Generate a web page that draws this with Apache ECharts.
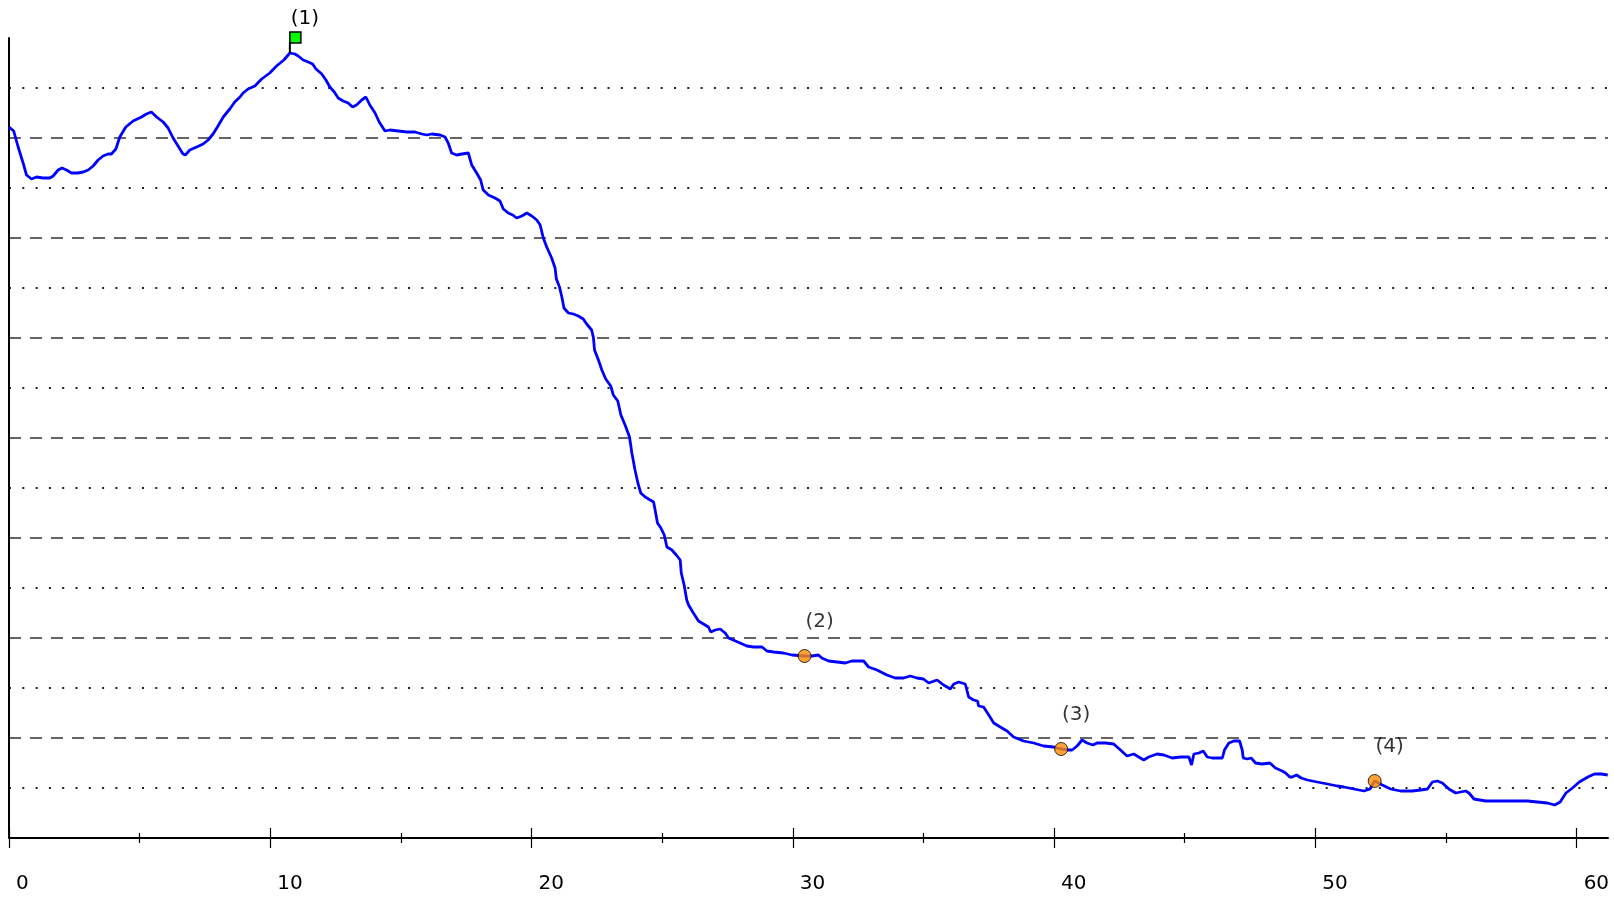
<!DOCTYPE html>
<html>
<head>
<meta charset="utf-8">
<title>profile</title>
<script src="https://cdn.jsdelivr.net/npm/echarts@6.0.0/dist/echarts.min.js"></script>
<style>
  html, body { margin: 0; padding: 0; background: #fff; }
  #profile { width: 1614px; height: 898px; }
</style>
</head>
<body>
<div id="profile"></div>
<script>
// distance along the route and height of the profile
var dist = [
  0, 0.18, 0.35, 0.54, 0.67, 0.86, 1.05, 1.3, 1.56, 1.69, 1.88, 2.03, 2.2, 2.39, 2.64, 2.84, 3.03, 3.22, 3.41, 3.6,
  3.79, 3.92, 4.09, 4.24, 4.47, 4.75, 5.07, 5.26, 5.45, 5.65, 5.9, 6.09, 6.28, 6.47, 6.66, 6.75, 6.92, 7.18, 7.43, 7.62,
  7.81, 8.0, 8.2, 8.45, 8.64, 8.84, 8.96, 9.15, 9.41, 9.67, 9.98, 10.24, 10.52, 10.75, 10.94, 11.07, 11.26, 11.45, 11.62, 11.75,
  11.97, 12.13, 12.28, 12.45, 12.6, 12.79, 12.98, 13.15, 13.3, 13.5, 13.66, 13.81, 14.01, 14.17, 14.39, 14.58, 14.9, 15.22, 15.54, 15.8,
  15.99, 16.18, 16.5, 16.69, 16.81, 16.94, 17.13, 17.33, 17.58, 17.71, 17.9, 18.05, 18.15, 18.35, 18.6, 18.79, 18.92, 19.11, 19.28, 19.43,
  19.63, 19.82, 20.01, 20.2, 20.33, 20.45, 20.58, 20.77, 20.9, 20.95, 21.07, 21.16, 21.24, 21.41, 21.6, 21.79, 21.98, 22.11, 22.3, 22.37,
  22.41, 22.56, 22.69, 22.84, 23.03, 23.13, 23.3, 23.42, 23.58, 23.75, 23.84, 23.96, 24.07, 24.18, 24.35, 24.54, 24.67, 24.7, 24.73, 24.82,
  24.95, 25.08, 25.18, 25.37, 25.54, 25.69, 25.73, 25.84, 25.94, 26.01, 26.17, 26.39, 26.58, 26.77, 26.86, 27.03, 27.22, 27.41, 27.54, 27.98,
  28.24, 28.5, 28.82, 29.01, 29.26, 29.64, 29.97, 30.45, 30.73, 30.98, 31.11, 31.37, 31.69, 32.01, 32.26, 32.71, 32.9, 33.22, 33.6, 33.92,
  34.24, 34.5, 34.75, 35.0, 35.2, 35.52, 35.77, 36.03, 36.16, 36.35, 36.6, 36.73, 36.92, 37.07, 37.11, 37.3, 37.5, 37.69, 37.94, 38.2,
  38.45, 38.83, 39.22, 39.6, 39.98, 40.27, 40.56, 40.69, 40.88, 41.07, 41.26, 41.49, 41.64, 41.96, 42.28, 42.54, 42.79, 43.05, 43.24, 43.43,
  43.62, 43.94, 44.2, 44.52, 44.84, 45.16, 45.26, 45.35, 45.54, 45.71, 45.86, 46.05, 46.44, 46.52, 46.69, 46.88, 47.1, 47.2, 47.24, 47.39,
  47.54, 47.71, 47.96, 48.26, 48.47, 48.73, 48.86, 49.02, 49.11, 49.28, 49.46, 49.69, 50.07, 50.46, 50.84, 51.09, 51.47, 51.86, 52.09, 52.18,
  52.27, 52.56, 52.88, 53.26, 53.71, 54.03, 54.29, 54.48, 54.67, 54.86, 55.11, 55.37, 55.56, 55.75, 55.88, 56.07, 56.52, 57.22, 58.12, 58.5,
  58.88, 59.16, 59.37, 59.59, 59.84, 60.1, 60.43, 60.68, 60.94, 61.19
];
var height = [
  711, 707, 691, 675, 663, 659, 661, 660, 660, 662, 668, 670, 668, 665, 665, 666, 668, 672, 678, 682,
  684, 684, 689, 701, 711, 717, 721, 724, 726, 721, 716, 710, 700, 692, 684, 683, 688, 691, 694, 698,
  704, 712, 721, 729, 736, 741, 745, 749, 752, 759, 765, 772, 778, 785, 784, 782, 778, 776, 774, 769,
  764, 758, 751, 746, 740, 737, 735, 731, 733, 738, 741, 733, 725, 716, 707, 708, 707, 706, 706, 704,
  703, 704, 703, 701, 695, 685, 683, 684, 685, 673, 665, 658, 648, 643, 640, 637, 629, 625, 623, 620,
  622, 625, 622, 618, 613, 600, 591, 580, 570, 559, 551, 541, 530, 525, 524, 522, 519, 514, 508, 500,
  488, 478, 468, 459, 452, 443, 437, 423, 413, 401, 385, 368, 355, 345, 341, 338, 336, 337, 328, 315,
  310, 303, 291, 288, 283, 278, 265, 253, 238, 233, 226, 217, 214, 211, 206, 208, 209, 205, 200, 195,
  192, 191, 191, 187, 186, 185, 183, 182, 182, 183, 180, 177, 176, 175, 177, 177, 171, 168, 163, 160,
  160, 162, 160, 159, 155, 158, 153, 149, 154, 156, 154, 141, 138, 137, 132, 131, 123, 115, 111, 107,
  101, 97, 95, 92, 91, 89, 88, 88, 92, 98, 95, 93, 95, 95, 94, 88, 82, 84, 81, 78,
  81, 84, 83, 80, 81, 81, 73, 84, 85, 87, 81, 80, 80, 88, 95, 97, 97, 88, 80, 79,
  80, 75, 74, 75, 70, 67, 65, 61, 61, 63, 60, 58, 56, 54, 52, 51, 49, 47, 49, 53,
  57, 53, 49, 47, 47, 48, 49, 56, 57, 55, 49, 45, 46, 47, 45, 39, 37, 37, 37, 36,
  35, 33, 36, 45, 50, 56, 61, 64, 64, 63
];

// highest point, shown as a flag
var summitDist = [10.75];
var summitHeight = [785];
var summitLabels = ["(1)"];

// other marked points
var poiDist = [30.45, 40.27, 52.27];
var poiHeight = [182, 89, 57];
var poiLabels = ["(2)", "(3)", "(4)"];

var xMax = 61.2;
var majorTicks = [0, 10, 20, 30, 40, 50, 60];
var minorTicks = [5, 15, 25, 35, 45, 55];

var font = "DejaVu Sans";

var chart = echarts.init(document.getElementById("profile"), null, { renderer: "canvas" });

var profileData = dist.map(function (d, i) { return [d, height[i]]; });
var summitData = summitDist.map(function (d, i) { return [d, summitHeight[i]]; });
var poiData = poiDist.map(function (d, i) {
  return { name: poiLabels[i], value: [d, poiHeight[i]] };
});

// x axis with no ticks of its own, two helper axes draw ticks that cross the line
function tickAxis(values, len) {
  return {
    type: "value",
    position: "bottom",
    min: 0,
    max: xMax,
    offset: -len / 2,
    axisLine: { show: false },
    axisTick: {
      show: true,
      customValues: values,
      length: len,
      lineStyle: { color: "#000", width: 1.2 },
    },
    axisLabel: { show: false },
    splitLine: { show: false },
  };
}

var option = {
  animation: false,
  grid: { left: 9, right: 6, top: 38, bottom: 60 },
  xAxis: [
    {
      type: "value",
      position: "bottom",
      min: 0,
      max: xMax,
      axisLine: { show: true, lineStyle: { color: "#000", width: 2 } },
      axisTick: { show: false },
      axisLabel: {
        customValues: majorTicks,
        align: "left",
        padding: [0, 0, 0, 7],
        margin: 36,
        color: "#000",
        fontSize: 20,
        fontFamily: font,
      },
      splitLine: { show: false },
    },
    tickAxis(majorTicks, 20),
    tickAxis(minorTicks, 10),
  ],
  yAxis: {
    type: "value",
    min: 0,
    max: 800,
    interval: 100,
    axisLine: { show: true, lineStyle: { color: "#000", width: 2 } },
    axisTick: { show: false },
    axisLabel: { show: false },
    minorTick: { show: false, splitNumber: 2 },
    splitLine: {
      show: true,
      showMinLine: false,
      showMaxLine: false,
      lineStyle: { color: "#333", width: 1.5, type: [12, 9] },
    },
    minorSplitLine: {
      show: true,
      lineStyle: { color: "#222", width: 2, type: [2, 11.3] },
    },
  },
  series: [
    {
      name: "profile",
      type: "line",
      data: profileData,
      showSymbol: false,
      symbol: "none",
      lineStyle: { color: "#0000ff", width: 2.8 },
      z: 3,
    },
    {
      name: "summit",
      type: "custom",
      data: summitData,
      z: 4,
      renderItem: function (params, api) {
        var p = api.coord([api.value(0), api.value(1)]);
        var label = summitLabels[params.dataIndex];
        return {
          type: "group",
          children: [
            {
              type: "line",
              shape: { x1: p[0], y1: p[1], x2: p[0], y2: p[1] - 11 },
              style: { stroke: "#000", lineWidth: 2 },
            },
            {
              type: "rect",
              shape: { x: p[0], y: p[1] - 21, width: 11, height: 11 },
              style: { fill: "#00ff00", stroke: "#000", lineWidth: 1.5 },
            },
            {
              type: "text",
              x: p[0] + 15,
              y: p[1] - 34,
              style: {
                text: label,
                fill: "#000",
                fontSize: 20,
                fontFamily: font,
                align: "center",
                verticalAlign: "middle",
              },
            },
          ],
        };
      },
    },
    {
      name: "poi",
      type: "scatter",
      data: poiData,
      symbol: "circle",
      symbolSize: 13,
      z: 5,
      itemStyle: { color: "#ff8a00", borderColor: "#000", borderWidth: 1 },
      label: {
        show: true,
        formatter: "{b}",
        position: "inside",
        offset: [15, -34],
        color: "#000",
        fontSize: 20,
        fontFamily: font,
      },
    },
  ],
};

chart.setOption(option);
</script>
</body>
</html>
